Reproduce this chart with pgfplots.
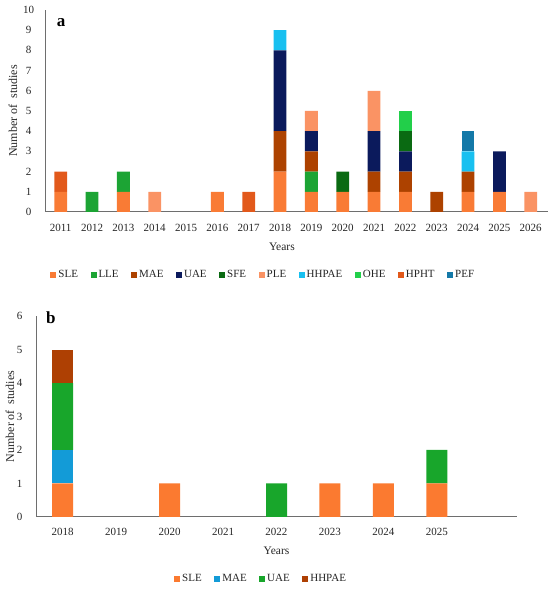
\documentclass[border=0pt]{standalone}
\usepackage{fontspec}
\setmainfont{Liberation Serif}
\usepackage{pgfplots}
\usepackage{pgfplotstable}
\pgfplotsset{compat=1.18}

\definecolor{cSLE}{HTML}{F97B35}
\definecolor{cLLE}{HTML}{1CA434}
\definecolor{cMAE}{HTML}{AD4200}
\definecolor{cUAE}{HTML}{0B1A5C}
\definecolor{cSFE}{HTML}{0A6A12}
\definecolor{cPLE}{HTML}{FA9364}
\definecolor{cHHPAE}{HTML}{18C0F0}
\definecolor{cOHE}{HTML}{22CF4A}
\definecolor{cHPHT}{HTML}{E2591B}
\definecolor{cPEF}{HTML}{1479A8}
\definecolor{bSLE}{HTML}{FB7A30}
\definecolor{bMAE}{HTML}{139BD7}
\definecolor{bUAE}{HTML}{18A62B}
\definecolor{bHHPAE}{HTML}{AE4003}
\definecolor{axgray}{HTML}{6E6E6E}

\pgfplotstableread{
year SLE LLE MAE UAE SFE PLE HHPAE OHE HPHT PEF
2011 1 0 0 0 0 0 0 0 1 0
2012 0 1 0 0 0 0 0 0 0 0
2013 1 1 0 0 0 0 0 0 0 0
2014 0 0 0 0 0 1 0 0 0 0
2015 0 0 0 0 0 0 0 0 0 0
2016 1 0 0 0 0 0 0 0 0 0
2017 0 0 0 0 0 0 0 0 1 0
2018 2 0 2 4 0 0 1 0 0 0
2019 1 1 1 1 0 1 0 0 0 0
2020 1 0 0 0 1 0 0 0 0 0
2021 1 0 1 2 0 2 0 0 0 0
2022 1 0 1 1 1 0 0 1 0 0
2023 0 0 1 0 0 0 0 0 0 0
2024 1 0 1 0 0 0 1 0 0 1
2025 1 0 0 2 0 0 0 0 0 0
2026 0 0 0 0 0 1 0 0 0 0
}\dataA

\pgfplotstableread{
year SLE MAE UAE HHPAE
2018 1 1 2 1
2019 0 0 0 0
2020 1 0 0 0
2021 0 0 0 0
2022 0 0 1 0
2023 1 0 0 0
2024 1 0 0 0
2025 1 0 1 0
}\dataB

\pgfplotsset{
  common/.style={
    scale only axis,
    ybar stacked,
    axis x line*=bottom,
    axis y line*=left,
    axis line style={axgray, line width=1pt},
    major tick length=0pt,
    ymin=0,
    clip=false,
    /pgf/number format/assume math mode=true,
    /pgf/number format/1000 sep={},
    tick label style={font=\fontsize{11}{13}\selectfont, text=black!85},
    xticklabel style={anchor=center, yshift=-16pt},
    yticklabel style={anchor=center, xshift=-16.5pt},
    xlabel={Years},
    ylabel={Number of\ \ studies},
    xlabel style={font=\fontsize{11.5}{13}\selectfont, text=black!85},
    ylabel style={font=\fontsize{12}{13}\selectfont, text=black!85},
    legend style={draw=none, font=\fontsize{11}{13}\selectfont, text=black!85,
      /tikz/every even column/.append style={column sep=10.5pt}},
    legend image code/.code={\fill[##1] (0pt,-3pt) rectangle (6pt,3pt);},
    every axis plot/.append style={draw=none},
  }
}

\begin{document}
\begin{tikzpicture}
\path[use as bounding box] (0,0) rectangle (550pt,591pt);

\begin{axis}[common,
  at={(45pt,379pt)}, anchor=south west,
  width=503pt, height=202pt,
  xmin=2010.5, xmax=2026.55,
  ymax=10, ytick={0,1,...,10},
  xtick={2011,2012,...,2026},
  bar width=12.8pt,
  xlabel style={at={(axis description cs:0.471,0)}, anchor=center, yshift=-35pt},
  ylabel style={at={([xshift=-32pt]axis description cs:0,0.5)}, anchor=center},
  legend columns=10,
  legend style={at={(axis description cs:0.434,0)}, anchor=center, yshift=-63pt},
]
\addplot[fill=cSLE] table[x=year,y=SLE]{\dataA};
\addplot[fill=cLLE] table[x=year,y=LLE]{\dataA};
\addplot[fill=cMAE] table[x=year,y=MAE]{\dataA};
\addplot[fill=cUAE] table[x=year,y=UAE]{\dataA};
\addplot[fill=cSFE] table[x=year,y=SFE]{\dataA};
\addplot[fill=cPLE] table[x=year,y=PLE]{\dataA};
\addplot[fill=cHHPAE] table[x=year,y=HHPAE]{\dataA};
\addplot[fill=cOHE] table[x=year,y=OHE]{\dataA};
\addplot[fill=cHPHT] table[x=year,y=HPHT]{\dataA};
\addplot[fill=cPEF] table[x=year,y=PEF]{\dataA};
\legend{SLE,LLE,MAE,UAE,SFE,PLE,HHPAE,OHE,HPHT,PEF}
\node[font=\fontsize{17}{18}\selectfont\bfseries] at (axis description cs:0.032,0.936) {a};
\end{axis}

\begin{axis}[common,
  at={(36pt,74pt)}, anchor=south west,
  width=481pt, height=201pt,
  xmin=2017.5, xmax=2026.5,
  ymax=6, ytick={0,1,...,6},
  xtick={2018,2019,...,2025},
  bar width=21pt,
  xticklabel style={yshift=1pt},
  xlabel style={at={(axis description cs:0.5,0)}, anchor=center, yshift=-34pt},
  ylabel style={at={([xshift=-26pt]axis description cs:0,0.5)}, anchor=center},
  legend columns=4,
  legend style={at={(axis description cs:0.468,0)}, anchor=center, yshift=-62pt},
]
\addplot[fill=bSLE] table[x=year,y=SLE]{\dataB};
\addplot[fill=bMAE] table[x=year,y=MAE]{\dataB};
\addplot[fill=bUAE] table[x=year,y=UAE]{\dataB};
\addplot[fill=bHHPAE] table[x=year,y=HHPAE]{\dataB};
\legend{SLE,MAE,UAE,HHPAE}
\node[font=\fontsize{17}{18}\selectfont\bfseries] at (axis description cs:0.031,0.99) {b};
\end{axis}
\end{tikzpicture}
\end{document}
